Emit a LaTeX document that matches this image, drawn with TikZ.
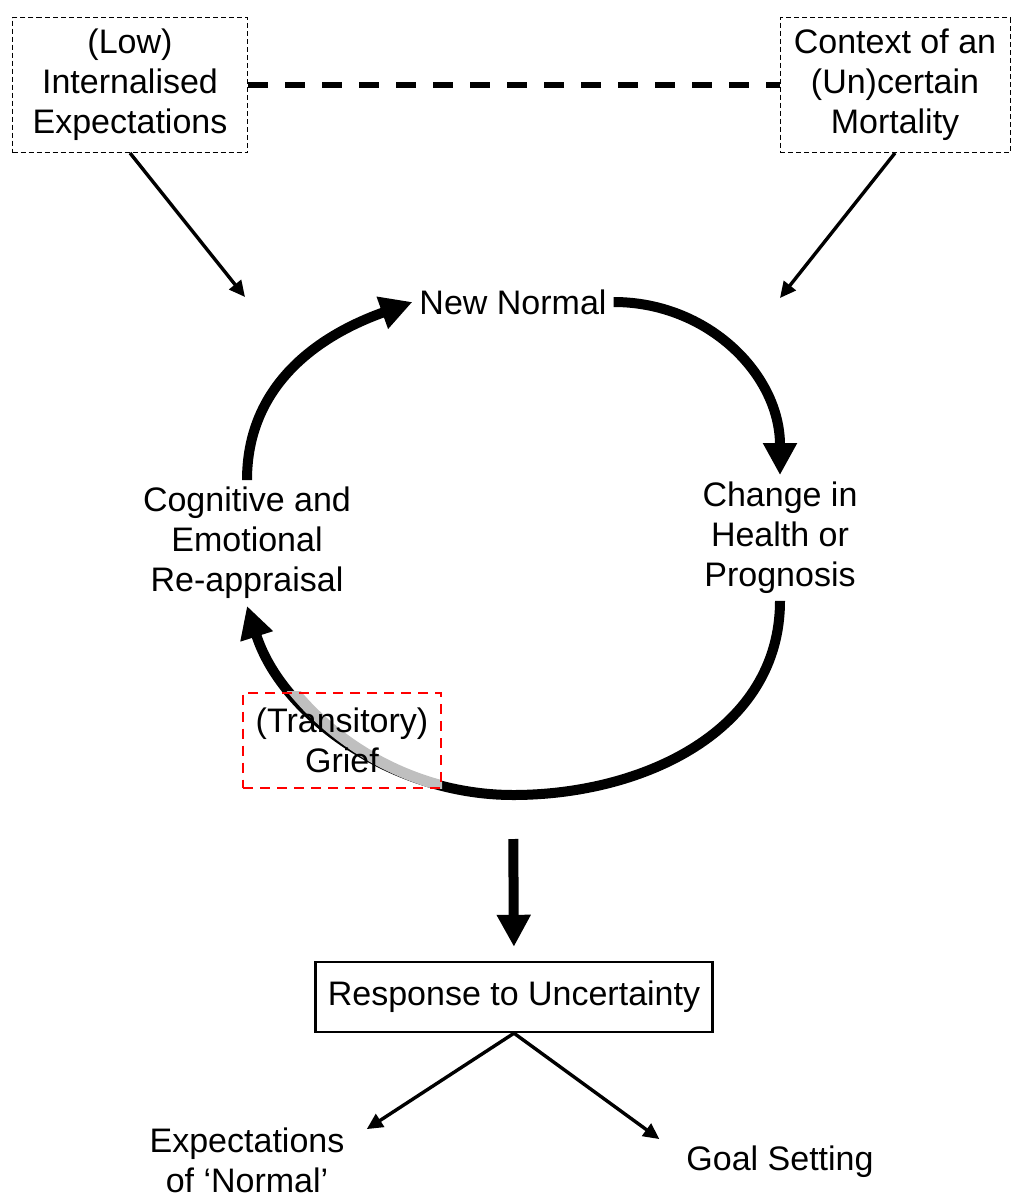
\documentclass[tikz,border=0pt]{standalone}
\usepackage{fontspec}
\setmainfont{Liberation Sans}
\usetikzlibrary{arrows.meta, positioning, backgrounds}

\begin{document}
\begin{tikzpicture}[
    % Global styles
    x=0.5pt, y=-0.5pt,
    font=\fontsize{17}{20}\selectfont,
    every node/.style={align=center},
    % Box styles
    factor/.style={
        rectangle,
        draw=black,
        line width=0.5pt,
        dash pattern=on 2.5pt off 1.5pt,
        minimum height=67.5pt
    },
    grief/.style={
        rectangle,
        draw=red,
        line width=1pt,
        dash pattern=on 5pt off 3.5pt,
        minimum width=99pt,
        minimum height=47.5pt
    },
    response/.style={
        rectangle,
        draw=black,
        line width=1.2pt,
        minimum width=198.5pt,
        minimum height=35pt
    },
    % Arrow styles
    cyclearrow/.style={
        line width=5pt,
        -{Triangle[length=16pt, width=16pt]}
    },
    link/.style={
        line width=1.7pt,
        -{Triangle[length=8pt, width=7.5pt]}
    },
    tie/.style={
        line width=2.6pt,
        dash pattern=on 10pt off 8.5pt
    }
]
\useasboundingbox (0,0) rectangle (1011,1195);

% --- Nodes ---

% Context factors
\node (low) [factor, minimum width=117.5pt] at (130,85) {(Low)\\Internalised\\Expectations};
\node (ctx) [factor, minimum width=115pt] at (895,85) {Context of an\\(Un)certain\\Mortality};

% Cycle
\node (nn) at (513,302) {New Normal};
\node (change) at (780,538) {Change in\\Health or\\Prognosis};
\node (cog) at (247,543) {Cognitive and\\Emotional\\Re-appraisal};
\node (griefbox) [grief] at (342,740) {(Transitory)\\Grief};
\coordinate (loopbot) at (513,795);

% Influence targets
\coordinate (lowtip) at (245,297);
\coordinate (ctxtip) at (780,298);

% Outcome
\node (resp) [response] at (514,997) {Response to Uncertainty};
\node (exp) [inner sep=1pt] at (247,1160) {Expectations\\of ‘Normal’};
\node (goal) at (780,1162) {Goal Setting};

% --- Edges ---

% Top links
\draw [tie] (low.east) -- (ctx.west);
\draw [link] (low.south) -- (lowtip);
\draw [link] (ctx.south) -- (ctxtip);

% The cycle
\begin{scope}[on background layer]
    \draw [cyclearrow] (cog.north) .. controls +(0,-110) and +(-70,25) .. (nn.west);
    \draw [cyclearrow] (nn.east) .. controls +(95,0) and +(0,-100) .. (change.north);
    \draw [cyclearrow] (change.south) .. controls +(0,130) and +(130,0) .. (loopbot)
        .. controls +(-120,0) and +(35,110) .. (cog.south);
    % faded part inside the grief box
    \begin{scope}
        \clip (griefbox.south west) rectangle (griefbox.north east);
        \draw [line width=5.4pt, black!25] (change.south) .. controls +(0,130) and +(130,0) .. (loopbot)
            .. controls +(-120,0) and +(35,110) .. (cog.south);
    \end{scope}
\end{scope}

% Outcome
\draw [cyclearrow, shorten <=22pt, shorten >=7pt] (loopbot) -- (resp.north);
\draw [link] (resp.south) -- ([xshift=10pt, yshift=-2pt]exp.north east);
\draw [link] (resp.south) -- ([xshift=-10pt]goal.north west);

\end{tikzpicture}
\end{document}
